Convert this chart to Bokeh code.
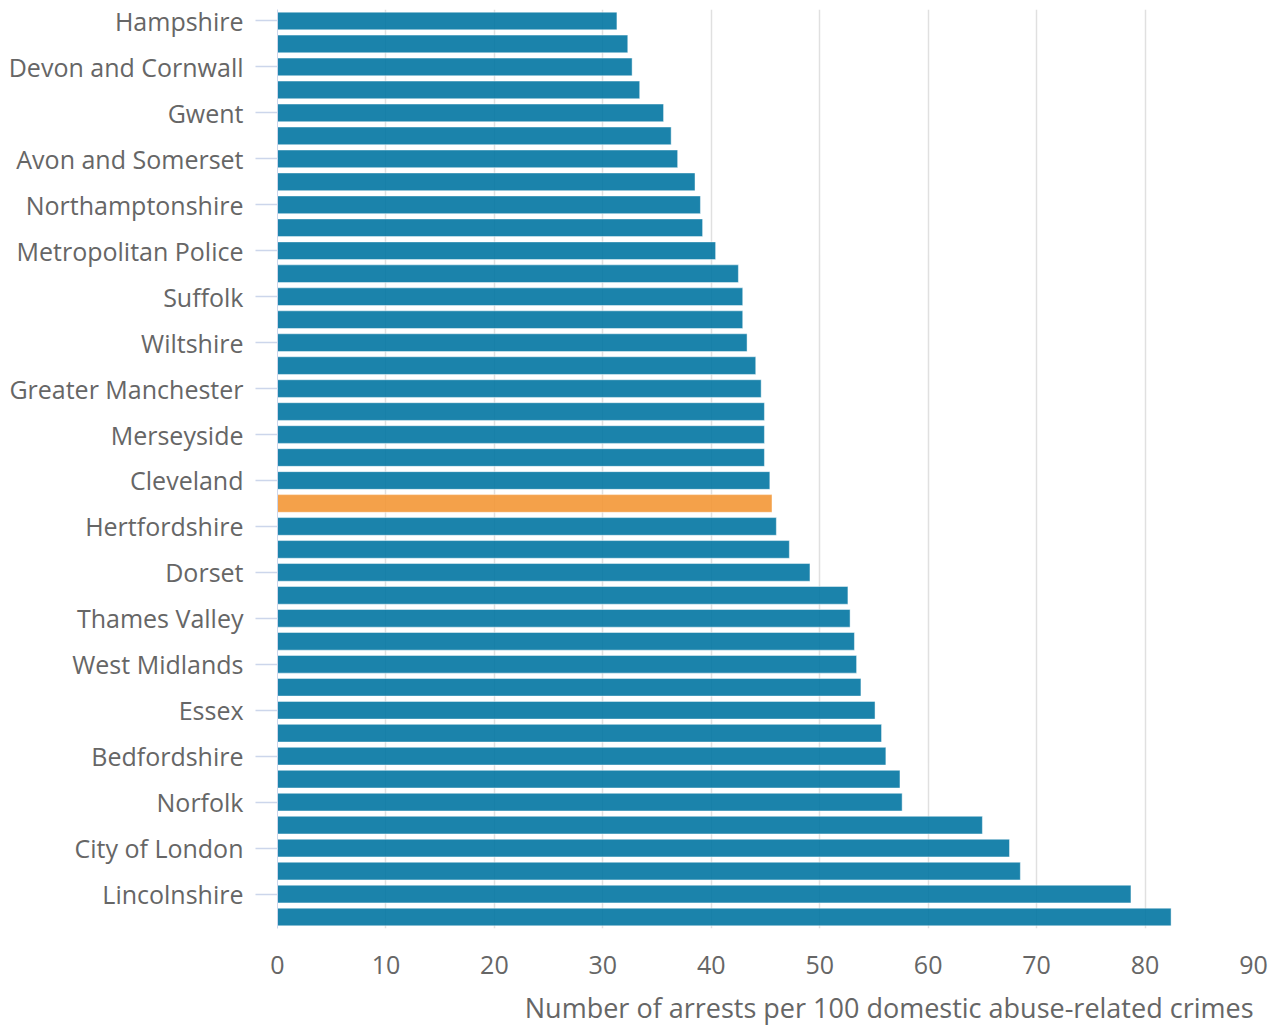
from bokeh.plotting import figure
from bokeh.models import Range1d, FixedTicker, Title, ColumnDataSource
from bokeh.embed import file_html
from bokeh.resources import INLINE

# Police force areas, top to bottom ("" = bar whose label is not shown)
forces = [
    "Hampshire", "", "Devon and Cornwall", "", "Gwent", "",
    "Avon and Somerset", "", "Northamptonshire", "", "Metropolitan Police", "",
    "Suffolk", "", "Wiltshire", "", "Greater Manchester", "", "Merseyside", "",
    "Cleveland", "", "Hertfordshire", "", "Dorset", "", "Thames Valley", "",
    "West Midlands", "", "Essex", "", "Bedfordshire", "", "Norfolk", "",
    "City of London", "", "Lincolnshire", "",
]
# Arrests per 100 domestic abuse-related crimes
arrest_rates = [
    31.3, 32.3, 32.7, 33.4, 35.6, 36.3, 36.9, 38.5, 39.0, 39.2,
    40.4, 42.5, 42.9, 42.9, 43.3, 44.1, 44.6, 44.9, 44.9, 44.9,
    45.4, 45.6, 46.0, 47.2, 49.1, 52.6, 52.8, 53.2, 53.4, 53.8,
    55.1, 55.7, 56.1, 57.4, 57.6, 65.0, 67.5, 68.5, 78.7, 82.4,
]
highlight_index = 21  # the orange (average) bar
x_ticks = [0, 10, 20, 30, 40, 50, 60, 70, 80, 90]
x_title = "Number of arrests per 100 domestic abuse-related crimes"

BLUE = "#0275a2"
ORANGE = "#f39736"

positions = list(range(len(arrest_rates)))
colors = [ORANGE if i == highlight_index else BLUE for i in positions]
src = ColumnDataSource(dict(y=positions, right=arrest_rates, color=colors))

p = figure(
    output_backend="svg", toolbar_location=None,
    frame_width=976, frame_height=919,
    min_border_left=277, min_border_right=20, min_border_top=9, min_border_bottom=98,
    x_range=Range1d(0, 90), y_range=Range1d(len(arrest_rates) - 0.5, -0.5),
)
p.outline_line_color = None
p.background_fill_color = "white"
p.border_fill_color = "white"

p.hbar(y="y", right="right", left=0, height=0.77, source=src,
       fill_color="color", fill_alpha=0.9, line_color="white", line_alpha=0.45, line_width=1)

FONT = "Open Sans"
TXT = "#666666"

# y axis
ya = p.yaxis[0]
ya.ticker = FixedTicker(ticks=[i for i, n in enumerate(forces) if n])
ya.major_label_overrides = {i: n for i, n in enumerate(forces) if n}
ya.axis_line_color = "#ccd6eb"
ya.major_tick_line_color = "#ccd6eb"
ya.major_tick_line_width = 1.5
ya.major_tick_out = 22
ya.major_tick_in = 0
ya.minor_tick_line_color = None
ya.major_label_standoff = 12
ya.major_label_text_font = FONT
ya.major_label_text_font_size = "25px"
ya.major_label_text_color = TXT

# x axis
xa = p.xaxis[0]
xa.ticker = FixedTicker(ticks=x_ticks)
xa.axis_line_color = None
xa.major_tick_line_color = None
xa.minor_tick_line_color = None
xa.major_label_standoff = 21
xa.major_label_text_font = FONT
xa.major_label_text_font_size = "25px"
xa.major_label_text_color = TXT

p.ygrid.grid_line_color = None
p.xgrid.grid_line_color = "#e0e0e0"
p.xgrid.grid_line_width = 1.5
p.xgrid.ticker = FixedTicker(ticks=x_ticks)

p.add_layout(Title(text=x_title, align="right", text_font=FONT, text_font_size="27px",
                   text_color=TXT, text_font_style="normal", standoff=21), "below")

open("out.html", "w").write(file_html(p, INLINE))
